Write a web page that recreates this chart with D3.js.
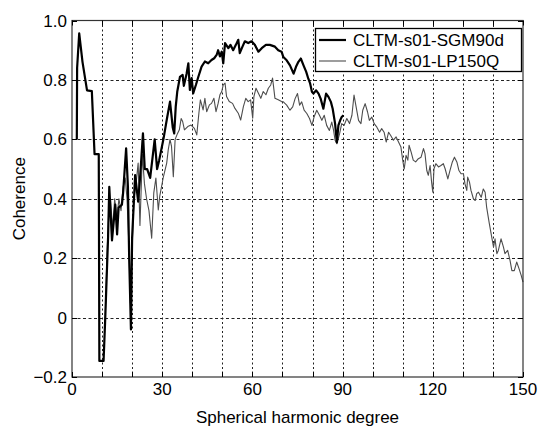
<!DOCTYPE html>
<html><head><meta charset="utf-8">
<script src="https://cdn.jsdelivr.net/npm/d3@7"></script>
<style>html,body{margin:0;padding:0;background:#fff}svg{display:block}text{font-family:"Liberation Sans",Arial,sans-serif;fill:#000}</style>
</head><body><div id="chart"></div>
<script>
const seriesNames = ["CLTM-s01-SGM90d", "CLTM-s01-LP150Q"];
const sgmDeg = [1.6,1.7,2.4,3.5,5.0,6.6,7.5,8.9,9.0,9.1,10.5,11.0,12.0,12.4,13.3,14.4,15.0,15.5,16.6,17.0,18.0,18.6,19.0,19.6,20.0,21.0,22.0,22.7,23.6,24.2,25.0,26.0,27.5,28.3,29.0,30.4,31.5,32.6,33.5,34.0,34.5,35.0,35.9,36.8,37.2,38.1,38.7,39.2,39.8,40.3,41.2,42.0,43.1,44.2,45.3,46.4,47.3,48.1,48.6,49.2,49.8,50.3,50.9,52.0,52.7,53.6,54.5,55.3,55.8,56.7,57.5,58.6,59.7,60.8,62.0,63.1,64.5,65.8,67.5,68.6,69.7,70.3,71.4,72.5,73.7,74.5,75.3,76.1,77.0,77.9,78.6,79.2,79.8,80.3,81.2,82.0,82.7,83.6,84.5,85.3,86.1,86.7,87.5,88.1,88.6,89.2,89.7,90.3];
const sgmVal = [0.60,0.84,0.957,0.86,0.765,0.762,0.55,0.55,0.20,-0.146,-0.146,-0.017,0.27,0.44,0.26,0.38,0.28,0.37,0.38,0.42,0.57,0.44,0.21,-0.04,0.27,0.48,0.39,0.48,0.62,0.50,0.50,0.47,0.60,0.50,0.53,0.60,0.665,0.727,0.64,0.62,0.71,0.76,0.81,0.817,0.78,0.82,0.856,0.766,0.806,0.755,0.783,0.81,0.845,0.862,0.856,0.867,0.873,0.884,0.90,0.879,0.895,0.856,0.924,0.907,0.918,0.90,0.918,0.935,0.89,0.912,0.93,0.924,0.93,0.918,0.895,0.907,0.918,0.918,0.912,0.90,0.895,0.877,0.866,0.849,0.821,0.844,0.861,0.872,0.849,0.827,0.804,0.788,0.76,0.754,0.765,0.754,0.737,0.703,0.754,0.743,0.726,0.703,0.653,0.59,0.647,0.664,0.675,0.681];
const lpDeg = [11.0,11.6,12.2,12.8,13.5,14.2,14.9,15.6,16.3,17.0,17.7,18.3,18.9,19.4,19.9,20.6,21.3,22.0,22.6,23.4,24.1,24.8,25.6,26.5,27.2,27.9,28.7,29.2,30.4,31.5,32.0,32.6,33.1,33.7,34.3,35.1,35.7,36.3,36.8,37.4,38.5,39.6,40.7,41.5,42.2,42.7,43.6,44.2,44.8,45.7,46.4,47.2,47.9,48.6,49.2,49.8,50.3,50.9,51.4,52.3,53.4,54.2,55.3,56.1,57.0,57.8,58.6,59.4,60.1,60.5,61.2,62.0,62.8,63.6,64.5,65.3,66.1,66.7,67.5,68.6,69.7,70.3,71.4,72.5,73.4,74.2,75.0,75.7,76.4,77.2,78.1,79.0,79.8,80.5,81.4,82.3,83.1,83.9,84.7,85.6,86.4,87.0,87.5,88.1,89.0,89.7,90.5,91.4,92.3,93.1,93.8,94.5,95.3,96.1,96.7,97.5,98.3,98.9,99.7,100.5,101.4,102.3,103.0,103.8,104.5,105.3,106.0,106.9,107.8,108.6,109.4,110.0,110.5,111.1,111.7,112.1,112.8,113.5,114.3,115.2,116.1,116.9,117.4,118.0,118.5,119.1,119.6,120.0,120.4,121.0,121.9,122.7,123.5,124.1,125.0,125.7,126.5,127.2,128.0,128.7,129.4,130.2,130.7,131.3,131.6,132.2,132.7,133.5,134.1,134.6,135.2,136.1,136.8,137.4,137.9,138.8,139.6,140.2,140.7,141.3,141.8,142.7,143.5,144.0,144.9,145.7,146.3,147.1,147.9,148.7,149.4,150.0];
const lpVal = [-0.02,0.20,0.35,0.40,0.30,0.40,0.33,0.40,0.36,0.44,0.47,0.40,0.25,0.05,0.20,0.40,0.45,0.52,0.31,0.55,0.45,0.40,0.36,0.267,0.42,0.47,0.362,0.41,0.474,0.52,0.564,0.60,0.576,0.474,0.60,0.62,0.632,0.67,0.66,0.632,0.643,0.648,0.637,0.615,0.688,0.733,0.699,0.738,0.693,0.716,0.721,0.738,0.693,0.721,0.75,0.761,0.783,0.789,0.744,0.727,0.721,0.704,0.688,0.665,0.71,0.738,0.727,0.733,0.671,0.744,0.772,0.755,0.738,0.761,0.75,0.772,0.783,0.806,0.738,0.733,0.727,0.726,0.715,0.698,0.709,0.737,0.754,0.715,0.726,0.698,0.687,0.67,0.647,0.675,0.698,0.681,0.664,0.681,0.647,0.63,0.658,0.63,0.597,0.585,0.619,0.653,0.647,0.67,0.653,0.681,0.749,0.709,0.664,0.653,0.698,0.72,0.692,0.664,0.675,0.653,0.641,0.624,0.636,0.624,0.591,0.624,0.613,0.597,0.608,0.591,0.574,0.529,0.50,0.546,0.53,0.58,0.557,0.53,0.524,0.535,0.54,0.569,0.552,0.495,0.479,0.512,0.456,0.422,0.501,0.518,0.507,0.512,0.518,0.501,0.467,0.495,0.524,0.54,0.524,0.495,0.484,0.484,0.45,0.428,0.473,0.456,0.428,0.40,0.394,0.417,0.422,0.405,0.433,0.422,0.372,0.316,0.271,0.237,0.265,0.215,0.226,0.265,0.237,0.215,0.226,0.192,0.158,0.158,0.187,0.164,0.142,0.119];
const xGrid = [10,20,30,40,50,60,70,80,90,100,110,120,130,140];
const xTickLabels = [0,30,60,90,120,150];
const yTicks = [-0.2,0,0.2,0.4,0.6,0.8,1.0];
const yGrid = [0,0.2,0.4,0.6,0.8];

const W = 541, H = 426;
const m = {l:72, r:18, t:20.5, b:49};
const svg = d3.select("#chart").append("svg").attr("width", W).attr("height", H);
svg.append("rect").attr("width", W).attr("height", H).attr("fill", "#fff");
const x = d3.scaleLinear().domain([0,150]).range([m.l, W - m.r]);
const y = d3.scaleLinear().domain([-0.2,1.0]).range([H - m.b, m.t]);
const g = svg.append("g");

// grid
g.selectAll(".vg").data(xGrid).enter().append("line")
  .attr("x1", d => Math.round(x(d)) + 0.5).attr("x2", d => Math.round(x(d)) + 0.5)
  .attr("y1", y(1.0)).attr("y2", y(-0.2))
  .attr("stroke", "#222").attr("stroke-width", 1).attr("stroke-dasharray", "2,2.5");
g.selectAll(".hg").data(yGrid).enter().append("line")
  .attr("y1", d => Math.round(y(d)) + 0.5).attr("y2", d => Math.round(y(d)) + 0.5)
  .attr("x1", x(0)).attr("x2", x(150))
  .attr("stroke", "#222").attr("stroke-width", 1).attr("stroke-dasharray", "3,2.5");

const line = d3.line().x(d => x(d[0])).y(d => y(d[1]));
g.append("path").datum(d3.zip(lpDeg, lpVal)).attr("d", line)
  .attr("fill", "none").attr("stroke", "#4d4d4d").attr("stroke-width", 1.1).attr("stroke-linejoin", "round");
g.append("path").datum(d3.zip(sgmDeg, sgmVal)).attr("d", line)
  .attr("fill", "none").attr("stroke", "#000").attr("stroke-width", 2.2).attr("stroke-linejoin", "round");

// frame
g.append("rect").attr("x", x(0)).attr("y", y(1.0)).attr("width", x(150) - x(0)).attr("height", y(-0.2) - y(1.0))
  .attr("fill", "none").attr("stroke", "#333").attr("stroke-width", 1.2);

// ticks (inward, all sides)
const tl = 5;
const xt = xGrid.concat([0,150]);
xt.forEach(d => {
  const px = Math.round(x(d)) + 0.5;
  g.append("line").attr("x1", px).attr("x2", px).attr("y1", y(-0.2)).attr("y2", y(-0.2) - tl).attr("stroke", "#000");
  g.append("line").attr("x1", px).attr("x2", px).attr("y1", y(1.0)).attr("y2", y(1.0) + tl).attr("stroke", "#000");
});
yTicks.forEach(d => {
  const py = Math.round(y(d)) + 0.5;
  g.append("line").attr("y1", py).attr("y2", py).attr("x1", x(0)).attr("x2", x(0) + tl).attr("stroke", "#000");
  g.append("line").attr("y1", py).attr("y2", py).attr("x1", x(150)).attr("x2", x(150) - tl).attr("stroke", "#000");
});

// tick labels
g.selectAll(".xl").data(xTickLabels).enter().append("text")
  .attr("x", d => x(d)).attr("y", y(-0.2) + 18).attr("text-anchor", "middle")
  .attr("font-size", 17).text(d => d);
g.selectAll(".yl").data(yTicks).enter().append("text")
  .attr("x", x(0) - 5).attr("y", d => y(d) + 6).attr("text-anchor", "end")
  .attr("font-size", 17).text(d => d === 0 ? "0" : d3.format(".1f")(d).replace("-", "\u2212"));

// axis titles
svg.append("text").attr("x", (x(0) + x(150)) / 2).attr("y", 423).attr("text-anchor", "middle")
  .attr("font-size", 17).text("Spherical harmonic degree");
svg.append("text").attr("transform", `translate(25,${(y(1.0) + y(-0.2)) / 2}) rotate(-90)`)
  .attr("text-anchor", "middle").attr("font-size", 17).text("Coherence");

// legend
const lg = svg.append("g");
lg.append("rect").attr("x", 315.5).attr("y", 28.5).attr("width", 206).attr("height", 43)
  .attr("fill", "#fff").attr("stroke", "#000").attr("stroke-width", 1.3);
const lcolors = ["#000", "#4d4d4d"], lwidths = [2.2, 1.1], lys = [40, 61];
seriesNames.forEach((s, i) => {
  lg.append("line").attr("x1", 319).attr("x2", 346).attr("y1", lys[i]).attr("y2", lys[i])
    .attr("stroke", lcolors[i]).attr("stroke-width", lwidths[i]);
  lg.append("text").attr("x", 353).attr("y", lys[i] + 6).attr("font-size", 17).text(s);
});
</script></body></html>
